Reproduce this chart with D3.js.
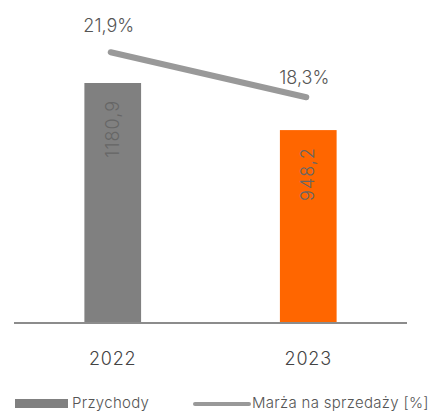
<!DOCTYPE html>
<html>
<head>
<meta charset="utf-8">
<script src="https://cdn.jsdelivr.net/npm/d3@7"></script>
<style>
  body { margin: 0; background: #fff; }
  svg { display: block; font-family: Inter, "Open Sans", sans-serif; font-weight: 300; }
</style>
</head>
<body>
<script>
    // data
    var years = ["2022", "2023"];
    var revenue = [1180.9, 948.2];
    var revenueLabels = ["1180,9", "948,2"];
    var margin = [21.9, 18.3];
    var marginLabels = ["21,9%", "18,3%"];
    var barColors = ["#808080", "#ff6600"];
    var legendNames = ["Przychody", "Marża na sprzedaży [%]"];

    var width = 435, height = 412;

    var svg = d3.select("body").append("svg")
        .attr("width", width)
        .attr("height", height);

    // x scale: band per year
    var x = d3.scaleBand()
        .domain(years)
        .range([14, 407])
        .paddingInner(0.71)
        .paddingOuter(0.36);

    // bars on left axis
    var y = d3.scaleLinear()
        .domain([0, 1180.9])
        .range([322, 83]);

    // margin line on right axis
    var y2 = d3.scaleLinear()
        .domain([0, 26])
        .range([326, 1]);

    // bars
    svg.selectAll(".bar")
        .data(years)
        .join("rect")
            .attr("class", "bar")
            .attr("x", function(d) { return x(d); })
            .attr("y", function(d, i) { return y(revenue[i]); })
            .attr("width", x.bandwidth())
            .attr("height", function(d, i) { return y(0) - y(revenue[i]); })
            .attr("fill", function(d, i) { return barColors[i]; });

    // rotated value labels in bars
    svg.selectAll(".barlabel")
        .data(years)
        .join("text")
            .attr("class", "barlabel")
            .attr("transform", function(d, i) {
                return "translate(" + (x(d) + x.bandwidth() / 2 + 6) + "," + (y(revenue[i]) + 17) + ") rotate(-90)";
            })
            .attr("text-anchor", "end")
            .attr("font-size", 18)
            .attr("letter-spacing", 1)
            .attr("fill", "#666")
            .text(function(d, i) { return revenueLabels[i]; });

    // baseline
    svg.append("line")
        .attr("x1", 14).attr("x2", 407)
        .attr("y1", y(0) + 1).attr("y2", y(0) + 1)
        .attr("stroke", "#8c8c8c")
        .attr("stroke-width", 2);

    // x axis labels
    var xAxis = svg.append("g")
        .attr("transform", "translate(0," + (y(0) + 1) + ")")
        .call(d3.axisBottom(x).tickSize(0).tickPadding(29));
    xAxis.select(".domain").remove();
    xAxis.selectAll("text")
        .attr("font-family", "Inter, 'Open Sans', sans-serif")
        .attr("font-weight", 300)
        .attr("font-size", 18)
        .attr("letter-spacing", 0.8)
        .attr("fill", "#444");

    // margin line
    var line = d3.line()
        .x(function(d, i) { return x(years[i]) + x.bandwidth() / 2 - 2; })
        .y(function(d) { return y2(d); });

    svg.append("path")
        .datum(margin)
        .attr("d", line)
        .attr("fill", "none")
        .attr("stroke", "#999")
        .attr("stroke-width", 6)
        .attr("stroke-linecap", "round");

    var labelOffsets = [20, 13];
    svg.selectAll(".mlabel")
        .data(margin)
        .join("text")
            .attr("class", "mlabel")
            .attr("x", function(d, i) { return x(years[i]) + x.bandwidth() / 2 - 4; })
            .attr("y", function(d, i) { return y2(d) - labelOffsets[i]; })
            .attr("text-anchor", "middle")
            .attr("font-size", 18)
            .attr("fill", "#555")
            .text(function(d, i) { return marginLabels[i]; });

    // legend
    var legend = svg.append("g");
    legend.append("rect")
        .attr("x", 15).attr("y", 399)
        .attr("width", 53).attr("height", 9)
        .attr("fill", barColors[0]);
    legend.append("text")
        .attr("x", 72).attr("y", 408)
        .attr("font-size", 15)
        .attr("letter-spacing", 0.3)
        .attr("fill", "#555")
        .text(legendNames[0]);
    legend.append("line")
        .attr("x1", 195).attr("x2", 249)
        .attr("y1", 404).attr("y2", 404)
        .attr("stroke", "#999")
        .attr("stroke-width", 4)
        .attr("stroke-linecap", "round");
    legend.append("text")
        .attr("x", 252).attr("y", 408)
        .attr("font-size", 15)
        .attr("letter-spacing", 0.3)
        .attr("fill", "#555")
        .text(legendNames[1]);
</script>
</body>
</html>
